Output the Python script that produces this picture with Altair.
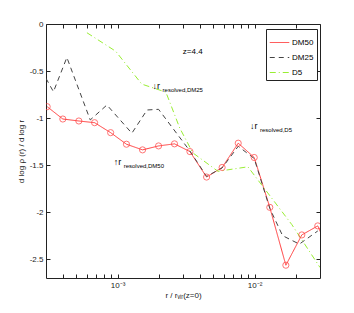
import altair as alt
import pandas as pd

# ---- data ----
dm50_r = [3.06e-4, 3.98e-4, 5.21e-4, 6.79e-4, 8.89e-4, 1.16e-3, 1.52e-3, 1.99e-3, 2.60e-3,
          3.37e-3, 4.46e-3, 5.79e-3, 7.59e-3, 9.93e-3, 1.29e-2, 1.69e-2, 2.21e-2, 2.89e-2, 3.78e-2]
dm50_s = [-0.879, -1.010, -1.031, -1.049, -1.155, -1.278, -1.338, -1.296, -1.274,
          -1.356, -1.627, -1.525, -1.267, -1.419, -1.949, -2.564, -2.242, -2.146, -2.53]

dm25_r = [3.0e-4, 3.40e-4, 4.26e-4, 6.31e-4, 8.35e-4, 1.27e-3, 1.64e-3, 1.99e-3,
          3.37e-3, 4.46e-3, 5.79e-3, 7.59e-3, 9.93e-3, 1.29e-2, 1.60e-2, 2.12e-2, 2.89e-2]
dm25_s = [-0.578, -0.720, -0.356, -1.020, -0.861, -1.161, -0.914, -0.907,
          -1.35, -1.62, -1.53, -1.30, -1.43, -1.96, -2.25, -2.34, -2.20]

d5_r = [5.97e-4, 9.67e-4, 1.50e-3, 2.25e-3, 2.84e-3, 3.54e-3, 5.40e-3, 8.93e-3, 1.87e-2, 3.0e-2]
d5_s = [-0.093, -0.289, -0.639, -0.724, -1.106, -1.370, -1.566, -1.518, -2.133, -2.588]

series_names = ["DM50", "DM25", "D5"]
series_colors = ["#ff3b3b", "#444444", "#99ee33"]
series_dash = [[1, 0], [5, 4], [6, 3, 1, 3]]

ann_x = [1.80e-3, 9.25e-3, 9.35e-4]
ann_y = [-0.69, -1.115, -1.50]
ann_main = ["↓r", "↓r", "↑r"]
ann_sub = ["resolved,DM25", "resolved,D5", "resolved,DM50"]

z_label = "z=4.4"
z_x = [2.99e-3]
z_y = [-0.30]

x_ticks = [4e-4, 5e-4, 6e-4, 7e-4, 8e-4, 9e-4, 1e-3, 2e-3, 3e-3, 4e-3, 5e-3, 6e-3,
           7e-3, 8e-3, 9e-3, 1e-2, 2e-2]
y_ticks = [0, -0.5, -1, -1.5, -2, -2.5]

# ---- tables ----
rows = []
for name, rr, ss in [("DM50", dm50_r, dm50_s), ("DM25", dm25_r, dm25_s), ("D5", d5_r, d5_s)]:
    for i, (a, b) in enumerate(zip(rr, ss)):
        rows.append({"series": name, "r": a, "s": b, "i": i})
lines_df = pd.DataFrame(rows)
dm50_df = pd.DataFrame({"r": dm50_r, "s": dm50_s})
ann_df = pd.DataFrame({"x": ann_x, "y": ann_y, "main": ann_main, "sub": ann_sub})
z_df = pd.DataFrame({"x": z_x, "y": z_y, "t": [z_label]})

FONT = "Liberation Sans"
xscale = alt.Scale(type="log", domain=[3e-4, 3e-2], nice=False)
yscale = alt.Scale(domain=[-2.7, 0], nice=False, zero=False)

label_x = ("abs(log(datum.value)/LN10 - round(log(datum.value)/LN10)) < 1e-6 ? "
           "(round(log(datum.value)/LN10) == -3 ? '10⁻³' : '10⁻²') : ''")
label_y = "datum.value == 0 ? '0' : '-' + format(abs(datum.value), '~g')"

lines = alt.Chart(lines_df).mark_line(strokeWidth=1, clip=True).encode(
    x=alt.X("r:Q", scale=xscale,
            axis=alt.Axis(title="r / rᵥᵢᵣ(z=0)", values=x_ticks, labelExpr=label_x,
                          orient="bottom", offset=-4, tickSize=4, domain=False, grid=False,
                          labelOverlap=False, labelPadding=3, titlePadding=2)),
    y=alt.Y("s:Q", scale=yscale,
            axis=alt.Axis(title="d log ρ (r) / d log r", values=y_ticks, labelExpr=label_y,
                          orient="left", offset=-4, tickSize=4, domain=False, grid=False,
                          labelPadding=3, titlePadding=4)),
    color=alt.Color("series:N",
                    scale=alt.Scale(domain=series_names, range=series_colors),
                    legend=alt.Legend(title=None, orient="none", legendX=220, legendY=5,
                                      symbolType="stroke", symbolSize=380, symbolStrokeWidth=1,
                                      labelFontSize=8, labelFont=FONT, labelColor="black",
                                      strokeColor="#222", padding=3, rowPadding=-8,
                                      fillColor="white", labelOffset=2)),
    strokeDash=alt.StrokeDash("series:N",
                              scale=alt.Scale(domain=series_names, range=series_dash),
                              legend=None),
    order="i:Q",
)

pts = alt.Chart(dm50_df).mark_point(shape="circle", size=38, filled=False,
                                    color="#ff3b3b", strokeWidth=1, clip=True).encode(
    x=alt.X("r:Q", scale=xscale, axis=None),
    y=alt.Y("s:Q", scale=yscale, axis=None),
)

frame = alt.Chart(dm50_df).mark_point(opacity=0).encode(
    x=alt.X("r:Q", scale=xscale,
            axis=alt.Axis(title=None, values=x_ticks, labels=False, orient="top",
                          offset=-4, tickSize=4, domain=False, grid=False)),
    y=alt.Y("s:Q", scale=yscale,
            axis=alt.Axis(title=None, values=y_ticks, labels=False, orient="right",
                          offset=-4, tickSize=4, domain=False, grid=False)),
)

ann_main_t = alt.Chart(ann_df).mark_text(align="left", baseline="alphabetic", fontSize=9,
                                         font=FONT, color="black").encode(
    x=alt.X("x:Q", scale=xscale, axis=None),
    y=alt.Y("y:Q", scale=yscale, axis=None),
    text="main:N",
)
ann_sub_t = alt.Chart(ann_df).mark_text(align="left", baseline="alphabetic", fontSize=6,
                                        font=FONT, color="black", dx=10, dy=3).encode(
    x=alt.X("x:Q", scale=xscale, axis=None),
    y=alt.Y("y:Q", scale=yscale, axis=None),
    text="sub:N",
)
z_t = alt.Chart(z_df).mark_text(align="left", baseline="middle", fontSize=8,
                                font=FONT, color="black").encode(
    x=alt.X("x:Q", scale=xscale, axis=None),
    y=alt.Y("y:Q", scale=yscale, axis=None),
    text="t:N",
)

chart = alt.layer(lines, pts, frame, ann_main_t, ann_sub_t, z_t).resolve_axis(
    x="independent", y="independent"
).properties(
    width=274, height=254,
    autosize=alt.AutoSizeParams(type="none"),
    padding={"left": 38, "top": 16, "right": 26, "bottom": 27},
    background="white",
).configure_view(
    stroke="#222", strokeWidth=1
).configure_axis(
    labelFont=FONT, titleFont=FONT, labelFontSize=8, titleFontSize=8,
    titleFontWeight="normal", tickColor="#222", labelColor="#222", titleColor="#222",
)

chart.save("out.html", embed_options={"renderer": "svg", "actions": False})
